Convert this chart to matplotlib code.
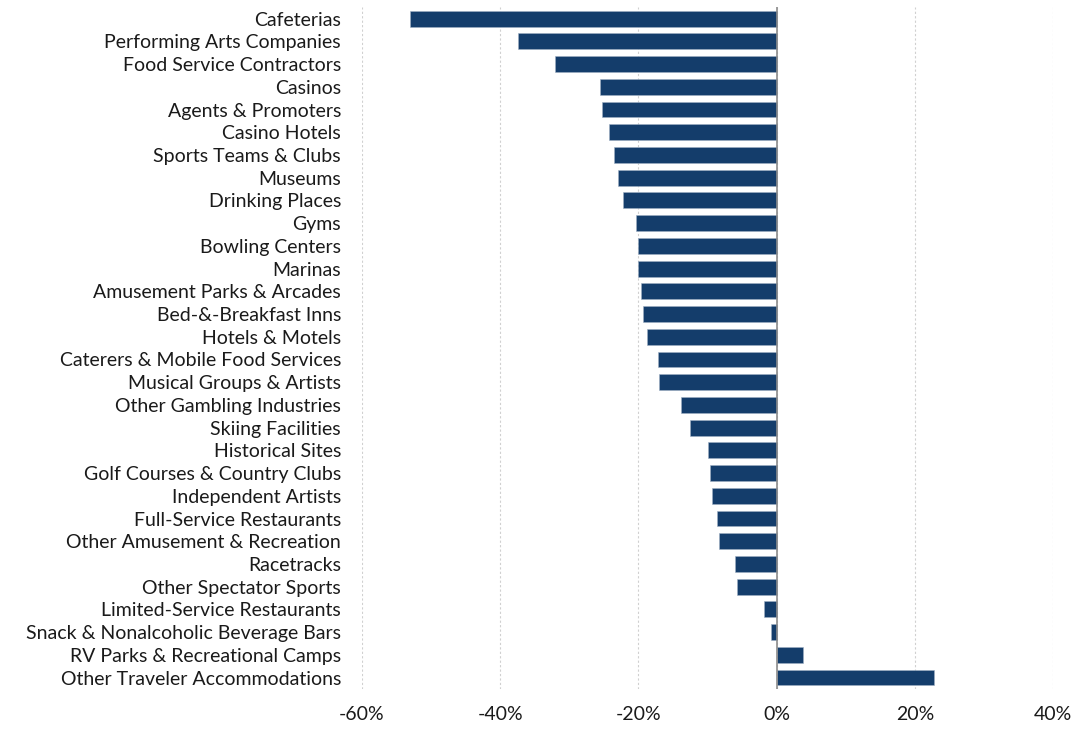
import matplotlib.pyplot as plt
from matplotlib.ticker import FuncFormatter

categories = [
    "Cafeterias", "Performing Arts Companies", "Food Service Contractors",
    "Casinos", "Agents & Promoters", "Casino Hotels", "Sports Teams & Clubs",
    "Museums", "Drinking Places", "Gyms", "Bowling Centers", "Marinas",
    "Amusement Parks & Arcades", "Bed-&-Breakfast Inns", "Hotels & Motels",
    "Caterers & Mobile Food Services", "Musical Groups & Artists",
    "Other Gambling Industries", "Skiing Facilities", "Historical Sites",
    "Golf Courses & Country Clubs", "Independent Artists",
    "Full-Service Restaurants", "Other Amusement & Recreation", "Racetracks",
    "Other Spectator Sports", "Limited-Service Restaurants",
    "Snack & Nonalcoholic Beverage Bars", "RV Parks & Recreational Camps",
    "Other Traveler Accommodations",
]
change_pct = [
    -53.0, -37.4, -32.0, -25.5, -25.2, -24.3, -23.5, -22.9, -22.2, -20.4,
    -20.1, -20.0, -19.7, -19.4, -18.7, -17.2, -17.0, -13.8, -12.5, -10.0,
    -9.6, -9.3, -8.6, -8.3, -6.1, -5.8, -1.9, -0.9, 3.8, 22.8,
]
x_ticks = [-60, -40, -20, 0, 20, 40]

plt.rcParams['font.family'] = ['Lato', 'DejaVu Sans']

fig = plt.figure(figsize=(10.77, 7.29), dpi=100)
ax = fig.add_axes([0.336, 0.055, 0.642, 0.935])

ypos = list(range(len(categories)))
ax.barh(ypos, change_pct, height=0.7, color='#143D6B',
        edgecolor='#9fb0c4', linewidth=0.4, zorder=3)

ax.set_ylim(len(categories) - 0.5, -0.5)
ax.set_xlim(-60, 40)
ax.set_xticks(x_ticks)
ax.xaxis.set_major_formatter(FuncFormatter(lambda v, p: f"{v:.0f}%"))
ax.set_yticks(ypos)
ax.set_yticklabels(categories)

ax.grid(axis='x', color='#d0d0d0', linestyle=(0, (2, 2)), linewidth=0.8, zorder=0)
ax.axvline(0, color='#8c8c8c', linewidth=1.2, zorder=4)
for s in ax.spines.values():
    s.set_visible(False)
ax.tick_params(axis='both', length=0, labelsize=14, colors='#1a1a1a')
ax.tick_params(axis='x', pad=12)
ax.tick_params(axis='y', pad=15)

fig.savefig('out.png', dpi=100)
